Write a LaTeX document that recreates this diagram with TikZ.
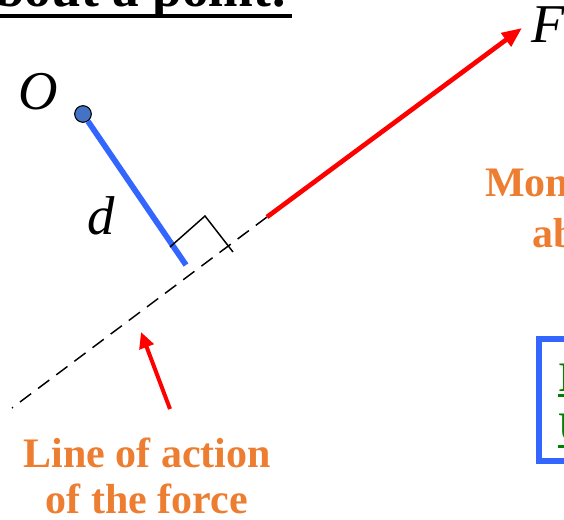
\documentclass[tikz,border=0pt]{standalone}
\usepackage{fontspec}
\setmainfont{Liberation Serif}
\usetikzlibrary{arrows.meta}
\definecolor{forcered}{RGB}{255,0,0}
\definecolor{armblue}{RGB}{51,102,255}
\definecolor{dotblue}{RGB}{68,114,196}
\definecolor{noteorange}{RGB}{237,125,49}
\definecolor{linkgreen}{RGB}{0,128,0}
\begin{document}
\begin{tikzpicture}[x=0.75pt,y=-0.75pt,
  sym/.style={font=\fontsize{41}{44}\selectfont\itshape,inner sep=0pt},
  note/.style={text=noteorange,font=\fontsize{31.5}{34.5}\selectfont\bfseries,inner sep=0pt},
  link/.style={text=linkgreen,font=\fontsize{31.5}{34.5}\selectfont\bfseries,inner sep=0pt},
  force/.style={forcered,line width=3.5pt,-{Triangle[length=15pt,width=12pt]}},
  pointer/.style={forcered,line width=3pt,-{Triangle[length=12pt,width=11pt]}},
  arm/.style={armblue,line width=4.3pt},
  actionline/.style={line width=1.1pt,dash pattern=on 10.5pt off 6.5pt}]
\useasboundingbox (0,0) rectangle (564,520);
\clip (0,0) rectangle (564,520);
% heading, cut off at the edge
\node[anchor=base east,inner sep=0pt,font=\fontsize{40}{44}\selectfont\bfseries] (title) at (289,7) {bout a point:};
\draw[line width=3pt] ([yshift=-6.4pt]title.base west) -- ([xshift=2pt,yshift=-6.4pt]title.base east);
% point O and moment arm
\node[circle,draw=black,fill=dotblue,line width=0.8pt,minimum size=12.5pt,inner sep=0pt] (O) at (83,114) {};
\node[sym] (Olbl) at (38,92) {O};
\coordinate (armend) at (186,265);
\draw[arm] (O) -- (armend);
\node[sym] (dlbl) at (101,216) {d};
% line of action and force
\coordinate (lstart) at (12,408);
\coordinate (fstart) at (267,217);
\coordinate (ftip) at (522,28);
\draw[actionline] (fstart) -- (lstart);
\draw[force] (fstart) -- (ftip);
\node[sym,anchor=base west] (Flbl) at (531,43) {F};
% right angle mark
\coordinate (ra1) at (170,247);
\coordinate (ra2) at (205,216);
\coordinate (ra3) at (233,252);
\draw[line width=1.1pt] (ra1) -- (ra2) -- (ra3);
% label for the line of action
\node[note,align=center,anchor=north] (loa) at (147,438) {Line of action\\of the force};
\coordinate (ptail) at (170,409);
\coordinate (ptip) at (141,332);
\draw[pointer] (ptail) -- (ptip);
% right side, cut off
\node[note,anchor=base west] (mom) at (485,197) {Mon};
\node[note,anchor=base west] (abt) at (532,248) {ab};
\draw[armblue,line width=4.5pt] (539,339) rectangle (620,461);
\node[link,anchor=base west] (l1) at (558,391) {I};
\node[link,anchor=base west] (l2) at (558,441) {U};
\draw[linkgreen,line width=2.2pt] ([yshift=-3.4pt]l1.base west) -- ([yshift=-3.4pt]l1.base east);
\draw[linkgreen,line width=2.2pt] ([yshift=-3.8pt]l2.base west) -- ([yshift=-3.8pt]l2.base east);
\end{tikzpicture}
\end{document}
